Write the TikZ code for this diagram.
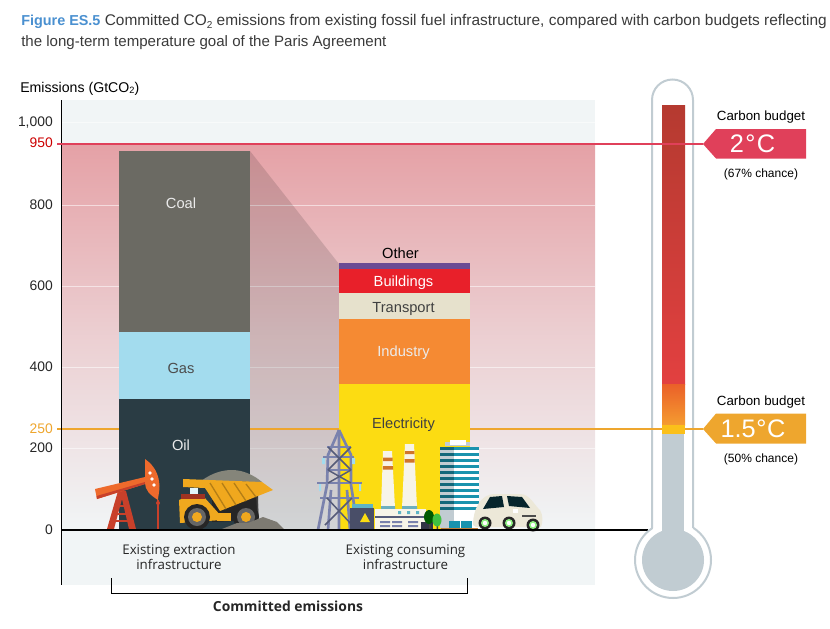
\documentclass[tikz,border=0pt]{standalone}
\usepackage{fontspec}
\setmainfont{Liberation Sans}
\newfontfamily\opn{Open Sans}
\usetikzlibrary{shadings}
\definecolor{plotbg}{HTML}{F1F5F6}
\definecolor{pinktop}{HTML}{E5A1A6}
\definecolor{redline}{HTML}{E0405A}
\definecolor{orgline}{HTML}{EEA62E}
\definecolor{coalc}{HTML}{6B6A63}
\definecolor{gasc}{HTML}{A3DCEE}
\definecolor{oilc}{HTML}{2A3C44}
\definecolor{otherc}{HTML}{6B4A94}
\definecolor{buildc}{HTML}{E8202A}
\definecolor{transc}{HTML}{E6E1CC}
\definecolor{indc}{HTML}{F58A33}
\definecolor{elecc}{HTML}{FCDC12}
\definecolor{thermo}{HTML}{C1CCD2}
\definecolor{txtc}{HTML}{3A3A3A}
\definecolor{figblue}{HTML}{4A90D0}
\definecolor{pyl}{HTML}{7A82AD}
\definecolor{rustc}{HTML}{C8402A}
\definecolor{pumpc}{HTML}{EE6A2C}
\definecolor{truckc}{HTML}{F0A81E}
\definecolor{rockc}{HTML}{7D7A72}
\definecolor{coalpile}{HTML}{85857A}
\definecolor{creamc}{HTML}{F7F4E8}
\definecolor{tealc}{HTML}{1A93AE}
\definecolor{carc}{HTML}{ECE8D8}
\definecolor{thA}{HTML}{B53A30}
\definecolor{thB}{HTML}{E24040}
\definecolor{thC}{HTML}{EA6029}
\definecolor{thD}{HTML}{F59C30}
\definecolor{thE}{HTML}{FBC01A}
\newcommand{\subtwo}{\raisebox{-0.25ex}{\scalebox{0.65}{2}}}
\tikzset{
  lab/.style={inner sep=0pt,text depth=0pt,font=\fontsize{11}{12}\selectfont},
  ytick/.style={inner sep=0pt,text depth=0pt,font=\fontsize{10.4}{12}\selectfont,anchor=east,text=black!85},
  bud/.style={inner sep=0pt,text depth=0pt,font=\fontsize{10}{12}\selectfont},
  chance/.style={inner sep=0pt,text depth=0pt,font=\fontsize{9}{11}\selectfont},
  tagt/.style={inner sep=0pt,text=white,font=\fontsize{19}{22}\selectfont},
  grid/.style={white,opacity=.55,line width=.75pt},
  bot/.style={inner sep=0pt,align=center,font=\opn\fontsize{10}{11.2}\selectfont,text=black!85},
  tube/.style={thermo,line width=1.5pt},
}
\begin{document}
\begin{tikzpicture}[x=.75pt,y=-.75pt]
\useasboundingbox (0,0) rectangle (830,628);
% title
\node[inner sep=0pt,anchor=base west,text=txtc,font=\fontsize{11.58}{14}\selectfont] (t1) at (21,26) {\textcolor{figblue}{\fontsize{10.8}{14}\selectfont\textbf{Figure ES.5}} Committed CO\subtwo{} emissions from existing fossil fuel infrastructure, compared with carbon budgets reflecting};
\node[inner sep=0pt,anchor=base west,text=txtc,font=\fontsize{11.3}{14}\selectfont] (t2) at (21,46) {the long-term temperature goal of the Paris Agreement};
\node[inner sep=0pt,anchor=base west,text=black,font=\fontsize{10.6}{12}\selectfont] (ylab) at (20,92) {Emissions (GtCO\subtwo)};
% background
\fill[plotbg] (62,100) rectangle (595,585);
\shade[top color=pinktop,bottom color=plotbg,middle color=pinktop!45!plotbg] (62,144) rectangle (595,530);
\foreach \yy in {122,205,286,367,448} \draw[grid] (62,\yy) -- (595,\yy);
\fill[black,opacity=.13] (250,151) -- (339,264) -- (339,530) -- (250,530) -- cycle;
% reference lines
\coordinate (r0) at (57,144); \coordinate (rtip) at (703,144);
\coordinate (o0) at (57,429); \coordinate (otip) at (703,429);
\draw[orgline,line width=1.5pt] (o0) -- (otip);
% bars
\fill[coalc] (119,151) rectangle (250,332);
\fill[gasc] (119,332) rectangle (250,399);
\fill[oilc] (119,399) rectangle (250,530);
\fill[otherc] (339,263) rectangle (470,269);
\fill[buildc] (339,269) rectangle (470,293);
\fill[transc] (339,293) rectangle (470,319);
\fill[indc] (339,319) rectangle (470,384);
\fill[elecc] (339,384) rectangle (470,530);
\node[lab,text=white!92!black] (coal) at (181,203.5) {Coal};
\node[lab,text=black!70] (gas) at (181,368) {Gas};
\node[lab,text=white!92!black] (oil) at (181,445.5) {Oil};
\node[lab,text=black] (other) at (400.5,253) {Other};
\node[lab,text=white] (buildings) at (403.5,281) {Buildings};
\node[lab,text=black!75] (transport) at (403.5,307) {Transport};
\node[lab,text=white!92!black] (industry) at (403.5,351) {Industry};
\node[lab,text=black!75] (electricity) at (403.5,423) {Electricity};
% ticks
\node[ytick] (y1000) at (53,122) {1,000};
\node[ytick,text=red!80!black] (y950) at (53,143) {950};
\node[ytick] (y800) at (53,205) {800};
\node[ytick] (y600) at (53,286) {600};
\node[ytick] (y400) at (53,367) {400};
\node[ytick,text=orgline] (y250) at (53,429) {250};
\node[ytick] (y200) at (53,448) {200};
\node[ytick] (y0) at (53,530) {0};
% ---- pump jack
\fill[rustc] (118,491) -- (126,491) -- (136,529) -- (129,529) -- (122,499) -- (114,529) -- (107,529) -- cycle;
\draw[rustc,line width=1.5pt] (115,506) -- (128,506) (113,514) -- (131,514) (112,521) -- (133,521);
\fill[pumpc] (95,489) -- (145,477) -- (145,484) -- (97,499) -- cycle;
\fill[rustc] (96.5,496) -- (145,482) -- (145,484) -- (97,499) -- cycle;
\fill[pumpc] (145,459) .. controls (155,466) and (159,475) .. (159.5,486) .. controls (159.5,492) and (158,497) .. (158,500) .. controls (150,495) and (145,490) .. (145,483) -- cycle;
\fill[white] (150,473) circle[radius=1.9] (152,479) circle[radius=1.9] (154,485) circle[radius=1.9];
\draw[rustc,line width=1.4pt] (158,500) -- (158,530);
\fill[rustc] (158,503) circle[radius=2];
% ---- truck
\fill[coalpile] (201,481) .. controls (212,473) and (222,470) .. (232,470) .. controls (244,470) and (255,476) .. (262,482) -- cycle;
\fill[black!85] (212,500) -- (258,492) -- (258,520) -- (212,522) -- cycle;
\draw[black!75,line width=1pt] (257,497) -- (258,517);
\fill[truckc] (179,500) -- (186,497) -- (204,497) -- (222,517) -- (222,520) -- (180,523) -- cycle;
\fill[white!70!gasc] (190,488) rectangle (198,494);
\fill[rustc!80!black] (181,494) rectangle (205,499);
\fill[truckc] (183,479) -- (262,482) -- (273,490) -- (220,511) -- (205,488) -- (183,487) -- cycle;
\draw[truckc!75!black,line width=1pt] (210,483) -- (226,509) (222,483) -- (236,505) (234,483) -- (246,501) (246,484) -- (256,497);
\fill[truckc] (217,513) rectangle (231,521);
\foreach \wx in {197,246} {
  \fill[black!85] (\wx,517) circle[radius=13];
  \fill[black!60] (\wx,517) circle[radius=9];
  \fill[truckc] (\wx,517) circle[radius=5];
}
\fill[rockc] (222,529) -- (237,523) -- (248,523) -- (263,517) -- (277,522) -- (284,529) -- cycle;
% ---- pylon
\draw[pyl,line width=2pt,line join=round] (339,430) -- (328,455) -- (327,485) -- (318,530) (339,430) -- (351,455) -- (351,485) -- (358,530);
\draw[pyl,line width=2pt] (339,430) -- (339,530) (328,530) -- (331,490) (350,530) -- (347,490);
\draw[pyl,line width=1.8pt] (323,457) -- (354,457) (317,483) -- (362,483) (320,498) -- (359,498) (327,447) -- (351,447) (327,470) -- (351,470);
\draw[pyl!70!black,line width=1.1pt] (328,447) -- (351,470) (351,447) -- (328,470) (328,470) -- (351,483) (351,470) -- (328,483) (327,498) -- (352,525) (352,498) -- (325,525);
\fill[gasc] (319,484) rectangle (321,491) (359,484) rectangle (361,491) (322,458) rectangle (325,464) (352,458) rectangle (355,464);
% ---- substation
\fill[pyl!60!black] (350,508) rectangle (374,530);
\fill[tealc!70!white] (352,504) rectangle (373,508);
\fill[elecc] (365,513) -- (370,522) -- (360,522) -- cycle;
% ---- chimneys
\fill[creamc] (383,451) -- (392,451) -- (395,508) -- (381,508) -- cycle;
\fill[creamc] (405,444) -- (414,444) -- (417,508) -- (402,508) -- cycle;
\fill[indc!85!black] (383,457.5) rectangle (392.5,461) (382.8,466) rectangle (393,469.5) (405,451) rectangle (414.3,454) (404.7,459) rectangle (414.7,462.5);
\fill[tealc!50!thermo] (381,506) rectangle (395,509) (402,506) rectangle (417,509);
% ---- factory
\fill[creamc] (375,509) rectangle (426,529.5);
\fill[pyl!70!black] (375,515.5) rectangle (426,517.5);
\fill[tealc!70!white] (398,511) rectangle (401,514) (407,511) rectangle (410,514) (416,511) rectangle (419,514);
\fill[pyl] (380,521) rectangle (390,523) (392,521) rectangle (402,523) (408,521) rectangle (418,523) (380,525) rectangle (390,527) (392,525) rectangle (402,527) (408,525) rectangle (418,527);
% ---- building
\fill[thermo] (445,442) rectangle (470,446);
\fill[white] (450,440) rectangle (466,445);
\fill[white] (440,450) rectangle (479,528);
\fill[thermo] (440,449) rectangle (454,528);
\foreach \sy in {447,453,...,512} {
  \fill[tealc] (446,\sy) rectangle (479,\sy+2.8);
  \fill[black!30!tealc] (440,\sy) rectangle (454,\sy+2.8);
}
\fill[tealc] (449,521) rectangle (472,529);
\fill[white] (460,521) rectangle (460.6,529);
\fill[orange!50!rockc] (441,528) rectangle (478,530);
% ---- trees
\fill[pyl!40!black] (421,522) rectangle (433,530);
\fill[rockc!55!black] (429,522) rectangle (430.5,530) (436.5,524) rectangle (438,530);
\fill[green!35!black] (429,517) ellipse[x radius=5,y radius=7];
\fill[green!50!gray] (437,520) ellipse[x radius=4.5,y radius=6.5];
% ---- car
\fill[carc] (473,525) .. controls (473,510) and (480,494) .. (495,494) -- (520,494) .. controls (530,494) and (534,505) .. (540,510) .. controls (543,515) and (543,522) .. (541,527) -- (476,527) -- cycle;
\fill[tealc!25!black] (483,509) -- (490,497) -- (502,496) -- (504,507) -- cycle;
\fill[tealc!25!black] (507,496) -- (522,497) -- (530,508) -- (509,506) -- cycle;
\fill[white] (513,509) rectangle (518,513);
\fill[black!70] (522,515) rectangle (536,517);
\foreach \wx/\wy in {485/523,509/523,533/525} {
  \fill[black!85] (\wx,\wy) circle[radius=6.5];
  \fill[green!40!carc] (\wx,\wy) circle[radius=4];
  \fill[white] (\wx,\wy) circle[radius=2.2];
}
% axes
\coordinate (axt) at (61.5,100); \coordinate (axb) at (61.5,585);
\coordinate (z0) at (61.5,530); \coordinate (z1) at (648,530);
\draw[black,line width=.75pt] (axt) -- (axb);
\draw[black,line width=1.5pt] (z0) -- (z1);
% bottom labels
\node[bot] (ext) at (179,557.5) {Existing extraction\\infrastructure};
\node[bot] (con) at (405.5,557.5) {Existing consuming\\infrastructure};
\coordinate (b1) at (111,578); \coordinate (b2) at (111,593); \coordinate (b3) at (467,593); \coordinate (b4) at (467,578);
\draw[black,line width=.6pt] (b1) -- (b2) -- (b3) -- (b4);
\node[inner sep=0pt,font=\opn\fontsize{10.4}{12}\selectfont\bfseries,text=black!85] (comm) at (288,606) {Committed emissions};
% thermometer
\fill[white] (652,100) .. controls (652,88.7) and (661,79.5) .. (672.5,79.5) .. controls (684,79.5) and (693,88.7) .. (693,100) -- (693,530) -- (652,530) -- cycle;
\filldraw[tube,fill=white] (673,560) circle[radius=38];
\fill[white] (653,520) rectangle (692.5,534);
\draw[tube] (652,528) -- (652,100) .. controls (652,88.7) and (661,79.5) .. (672.5,79.5) .. controls (684,79.5) and (693,88.7) .. (693,100) -- (693,528);
\fill[thermo] (673,560) circle[radius=31];
\fill[thermo] (662,434) rectangle (684,540);
\fill[top color=thA,bottom color=thB] (662,105) rectangle (685,384);
\fill[top color=thC,bottom color=thD] (662,384) rectangle (685,425);
\fill[thE] (662,425) rectangle (685,434);
\draw[orgline,line width=1.5pt] (685,429) -- (otip);
\draw[orgline,line width=1.5pt] (z1 |- otip) -- (662,429);
\draw[redline,line width=1.5pt] (r0) -- (rtip);
% tags
\fill[redline] (703,144) -- (716,129) -- (806,129) -- (806,158.5) -- (716,158.5) -- cycle;
\fill[orgline] (703,429) -- (716,413.5) -- (806,413.5) -- (806,443.5) -- (716,443.5) -- cycle;
\node[tagt] (t2c) at (752.5,144) {2\kern1pt°\kern1pt C};
\node[tagt] (t15c) at (753,429) {1.5\kern.5pt°\kern.5pt C};
\node[bud] (cb1) at (761,115.5) {Carbon budget};
\node[bud] (cb2) at (761,400.5) {Carbon budget};
\node[chance] (ch1) at (761,173.5) {(67\% chance)};
\node[chance] (ch2) at (761,458) {(50\% chance)};
\end{tikzpicture}
\end{document}
